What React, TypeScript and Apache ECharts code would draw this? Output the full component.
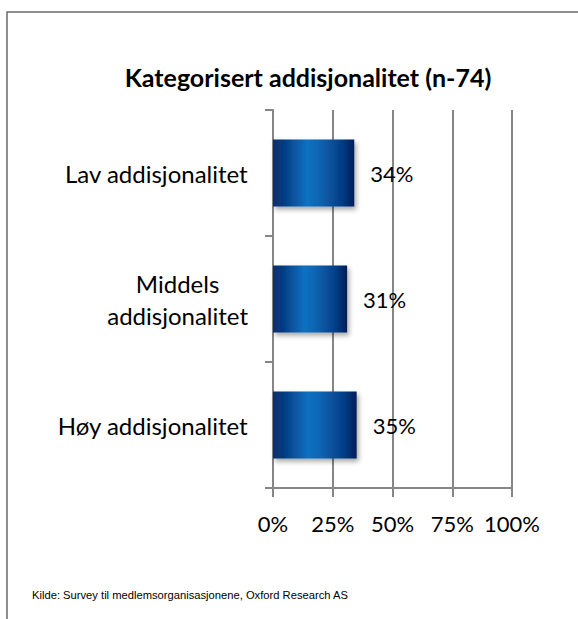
import React, { useEffect, useRef } from "react";
import * as echarts from "echarts";

const categories = ["Lav addisjonalitet", "Middels\naddisjonalitet", "Høy addisjonalitet"];
const values = [34, 31, 35];
const xTicks = [0, 25, 50, 75, 100];
const title = "Kategorisert addisjonalitet (n-74)";
const source = "Kilde: Survey til medlemsorganisasjonene, Oxford Research AS";

export default function App() {
  const ref = useRef<HTMLDivElement>(null);
  useEffect(() => {
    if (!ref.current) return;
    const chart = echarts.init(ref.current, null, { renderer: "svg" });
    const font = "Lato, 'Open Sans', sans-serif";
    const grad = new echarts.graphic.LinearGradient(0, 0, 1, 0, [
      { offset: 0, color: "#0e2d6a" },
      { offset: 0.12, color: "#053a80" },
      { offset: 0.42, color: "#0a71c2" },
      { offset: 0.55, color: "#0867b5" },
      { offset: 0.85, color: "#063d86" },
      { offset: 1, color: "#001d58" },
    ]);
    chart.setOption({
      animation: false,
      backgroundColor: "#ffffff",
      title: {
        text: title,
        left: 303,
        top: 59,
        textAlign: "center",
        textStyle: { fontFamily: font, fontSize: 25, fontWeight: "bold", color: "#000" },
      },
      grid: { left: 273, right: 66, top: 110, bottom: 131, containLabel: false },
      xAxis: {
        type: "value",
        min: 0,
        max: 100,
        interval: 25,
        axisLine: { show: true, lineStyle: { color: "#868686", width: 2 } },
        axisTick: { show: true, length: 9, lineStyle: { color: "#868686", width: 2 } },
        splitLine: { show: true, lineStyle: { color: "#868686", width: 2 } },
        axisLabel: {
          margin: 24,
          fontFamily: font,
          fontSize: 22,
          color: "#000",
          formatter: (v: number) => (xTicks.includes(v) ? v + "%" : ""),
        },
      },
      yAxis: {
        type: "category",
        data: categories,
        inverse: true,
        axisLine: { show: true, lineStyle: { color: "#868686", width: 2 } },
        axisTick: { show: true, length: 8, lineStyle: { color: "#868686", width: 2 } },
        axisLabel: {
          margin: 25,
          fontFamily: font,
          fontSize: 24,
          color: "#000",
          align: "right",
          formatter: (v: string) => v.split("\n").map((s) => "{c|" + s + "}").join("\n"),
          rich: {
            c: { fontFamily: font, fontSize: 24, color: "#000", align: "center", lineHeight: 32 },
          },
        },
      },
      series: [
        {
          type: "bar",
          data: values,
          barWidth: 67,
          itemStyle: {
            color: grad,
            shadowColor: "rgba(0,0,0,0.35)",
            shadowBlur: 5,
            shadowOffsetX: 2,
            shadowOffsetY: 3,
          },
          label: {
            show: true,
            position: "right",
            distance: 16,
            formatter: "{c}%",
            fontFamily: font,
            fontSize: 22,
            color: "#000",
          },
        },
      ],
      graphic: [
        {
          type: "rect",
          shape: { x: 7, y: 12, width: 600, height: 700 },
          style: { fill: "none", stroke: "#6b6b6b", lineWidth: 1.5 },
          silent: true,
        },
        {
          type: "text",
          x: 32,
          y: 589,
          style: { text: source, fontFamily: "'Liberation Sans', Arial, sans-serif", fontSize: 11.2, fill: "#000" },
        },
      ],
    });
    return () => chart.dispose();
  }, []);
  return <div ref={ref} style={{ position: "fixed", left: 0, top: 0, width: 578, height: 619 }} />;
}
